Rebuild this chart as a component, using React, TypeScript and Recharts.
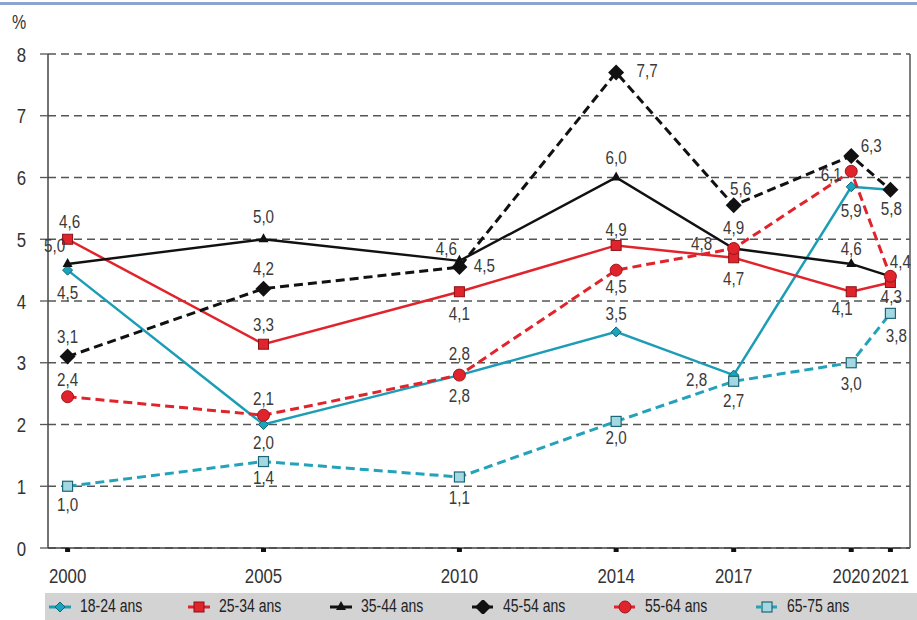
import React from 'react';
import { LineChart, Line, XAxis, YAxis, CartesianGrid, ReferenceLine, LabelList } from 'recharts';

const years = [2000, 2005, 2010, 2014, 2017, 2020, 2021];
const yTicks = [0, 1, 2, 3, 4, 5, 6, 7, 8];

const v1824 = [4.5, 2.0, 2.8, 3.5, 2.8, 5.85, 5.8];
const v2534 = [5.0, 3.3, 4.15, 4.9, 4.7, 4.15, 4.3];
const v3544 = [4.6, 5.0, 4.65, 6.0, 4.85, 4.6, 4.4];
const v4554 = [3.1, 4.2, 4.55, 7.7, 5.55, 6.35, 5.8];
const v5564 = [2.45, 2.15, 2.8, 4.5, 4.85, 6.1, 4.4];
const v6575 = [1.0, 1.4, 1.15, 2.05, 2.7, 3.0, 3.8];

// texts printed next to the points (as in the source figure)
const t1824 = ['4,5', '2,0', '2,8', '3,5', '2,8', '5,9', null];
const t2534 = ['4,6', '3,3', '4,1', '4,9', '4,7', '4,1', '4,3'];
const t3544 = ['5,0', '5,0', '4,6', '6,0', '4,8', '4,6', null];
const t4554 = ['3,1', '4,2', '4,5', '7,7', '5,6', '6,3', '5,8'];
const t5564 = ['2,4', '2,1', '2,8', '4,5', '4,9', '6,1', '4,4'];
const t6575 = ['1,0', '1,4', '1,1', '2,0', '2,7', '3,0', '3,8'];

const seriesNames = ['18-24 ans', '25-34 ans', '35-44 ans', '45-54 ans', '55-64 ans', '65-75 ans'];

const FONT = "'Liberation Sans', Arial, sans-serif";
const NARROW = 0.8; // no narrow face installed, squeeze horizontally
const TEAL = '#1c9db5';
const RED = '#e1232b';
const BLACK = '#111';

// label offsets [dx, dy] from the point, per series
const labelPos: Record<string, number[][]> = {
  a: [[0, 22], [0, 18], [0, 20], [0, -19], [-37, 4], [0, 23], [0, 0]],
  b: [[2, -18], [0, -20], [0, 21], [0, -16], [0, 20], [-9, 16], [1, 14]],
  c: [[-13, -19], [0, -23], [-13, -13], [0, -20], [-32, -5], [0, -16], [0, 0]],
  d: [[0, -20], [0, -21], [25, -2], [31, -2], [7, -17], [20, -11], [1, 18]],
  e: [[0, -18], [0, -17], [0, -22], [0, 16], [0, -21], [-20, 3], [10, -15]],
  f: [[0, 18], [0, 16], [0, 20], [0, 16], [0, 19], [0, 20], [6, 22]],
};

const rows = years.map((year, i) => ({
  year,
  a: v1824[i], b: v2534[i], c: v3544[i], d: v4554[i], e: v5564[i], f: v6575[i],
  ta: t1824[i], tb: t2534[i], tc: t3544[i], td: t4554[i], te: t5564[i], tf: t6575[i],
}));

const Marker = ({ kind, cx, cy }: { kind: string; cx: number; cy: number }) => {
  switch (kind) {
    case 'a':
      return <polygon points={`${cx},${cy - 5} ${cx + 5},${cy} ${cx},${cy + 5} ${cx - 5},${cy}`} fill="#1aa3bb" stroke="#0c6878" strokeWidth={1} />;
    case 'b':
      return <rect x={cx - 5} y={cy - 5} width={10} height={10} fill={RED} stroke="#8a1217" strokeWidth={1} />;
    case 'c':
      return <polygon points={`${cx},${cy - 6} ${cx + 5},${cy + 3} ${cx - 5},${cy + 3}`} fill={BLACK} />;
    case 'd':
      return <polygon points={`${cx},${cy - 8} ${cx + 8},${cy} ${cx},${cy + 8} ${cx - 8},${cy}`} fill={BLACK} />;
    case 'e':
      return <circle cx={cx} cy={cy} r={6} fill={RED} stroke="#9a161c" strokeWidth={1} />;
    default:
      return <rect x={cx - 5} y={cy - 5} width={10} height={10} fill="#a3d8e2" stroke="#1d6676" strokeWidth={1.2} />;
  }
};

const makeDot = (kind: string) => (p: any) => (
  <g key={`${kind}-${p.index}`}>
    <Marker kind={kind} cx={p.cx} cy={p.cy} />
  </g>
);

const NarrowText = ({ x, y, anchor, dy, size, fill, children }: any) => (
  <g transform={`translate(${x},${y}) scale(${NARROW},1)`}>
    <text x={0} y={0} dy={dy} textAnchor={anchor} fontFamily={FONT} fontSize={size} fill={fill}>
      {children}
    </text>
  </g>
);

const makeLabel = (kind: string) => (p: any) => {
  if (p.value == null) return null;
  const off = labelPos[kind][p.index] || [0, 0];
  return (
    <NarrowText key={`l-${kind}-${p.index}`} x={p.x + off[0]} y={p.y + off[1]} anchor="middle" dy="0.36em" size={19} fill="#3a3a3a">
      {p.value}
    </NarrowText>
  );
};

const XTick = (p: any) => (
  <NarrowText x={p.x} y={p.y} anchor="middle" dy="0.72em" size={21} fill="#333">
    {p.payload.value}
  </NarrowText>
);

const YTick = (p: any) => (
  <NarrowText x={p.x} y={p.y} anchor="end" dy="0.36em" size={21} fill="#333">
    {p.payload.value}
  </NarrowText>
);

const series = [
  { key: 'a', color: TEAL, dash: undefined, width: 2.5 },
  { key: 'b', color: RED, dash: undefined, width: 2.5 },
  { key: 'c', color: BLACK, dash: undefined, width: 2.4 },
  { key: 'd', color: BLACK, dash: '9 5', width: 3 },
  { key: 'e', color: RED, dash: '9 5', width: 3 },
  { key: 'f', color: '#23a2b9', dash: '9 5', width: 3 },
];

const LegendIcon = ({ kind, color, dash }: { kind: string; color: string; dash?: string }) => (
  <svg width={24} height={14} style={{ display: 'block' }}>
    <line x1={1} y1={7} x2={23} y2={7} stroke={color} strokeWidth={3} strokeDasharray={dash ? '5 3' : undefined} />
    <Marker kind={kind} cx={12} cy={7} />
  </svg>
);

export default function App() {
  return (
    <div style={{ position: 'absolute', left: 0, top: 0, width: 917, height: 620, background: '#fff', overflow: 'hidden' }}>
      <div style={{ position: 'absolute', left: 0, top: 2, width: 917, height: 3, background: '#8ea3cd' }} />
      <div style={{ position: 'absolute', left: 12, top: 11, fontFamily: FONT, fontSize: 20, color: '#333', transform: `scaleX(${NARROW})`, transformOrigin: 'left' }}>%</div>
      <div style={{ position: 'absolute', left: 0, top: 0 }}>
        <LineChart width={917} height={594} data={rows} margin={{ top: 54, right: 7, bottom: 0, left: 0 }}>
          <CartesianGrid vertical={false} stroke="#555" strokeDasharray="8 5" strokeWidth={1.3} />
          <XAxis
            dataKey="year"
            type="number"
            domain={[1999.5, 2021.5]}
            ticks={years}
            height={46}
            axisLine={{ stroke: '#444', strokeWidth: 1.5 }}
            tickLine={{ stroke: '#111', strokeWidth: 5 }}
            tickSize={4}
            tickMargin={16}
            tick={<XTick />}
            interval={0}
          />
          <YAxis
            domain={[0, 8]}
            ticks={yTicks}
            width={48}
            axisLine={{ stroke: '#444', strokeWidth: 1.5 }}
            tickLine={{ stroke: '#555', strokeWidth: 1.3 }}
            tickSize={8}
            tickMargin={14}
            tick={<YTick />}
          />
          <ReferenceLine x={2021.5} stroke="#555" strokeWidth={1.5} />
          {series.map((s) => (
            <Line
              key={s.key}
              dataKey={s.key}
              type="linear"
              stroke={s.color}
              strokeWidth={s.width}
              strokeDasharray={s.dash}
              dot={makeDot(s.key)}
              activeDot={false}
              isAnimationActive={false}
            >
              <LabelList dataKey={`t${s.key}`} content={makeLabel(s.key)} />
            </Line>
          ))}
        </LineChart>
      </div>
      <div
        style={{
          position: 'absolute', left: 45, top: 593, width: 872, height: 27, background: '#d3d3d3',
          display: 'flex', alignItems: 'center', fontFamily: FONT, fontSize: 17.5, color: '#222',
        }}
      >
        {series.map((s, i) => (
          <div key={s.key} style={{ display: 'flex', alignItems: 'center', width: 142, paddingLeft: i === 0 ? 3 : 0, boxSizing: 'border-box' }}>
            <LegendIcon kind={s.key} color={s.color} dash={s.dash} />
            <span style={{ marginLeft: 8, display: 'inline-block', transform: `scaleX(${NARROW})`, transformOrigin: 'left', whiteSpace: 'nowrap' }}>
              {seriesNames[i]}
            </span>
          </div>
        ))}
      </div>
    </div>
  );
}
